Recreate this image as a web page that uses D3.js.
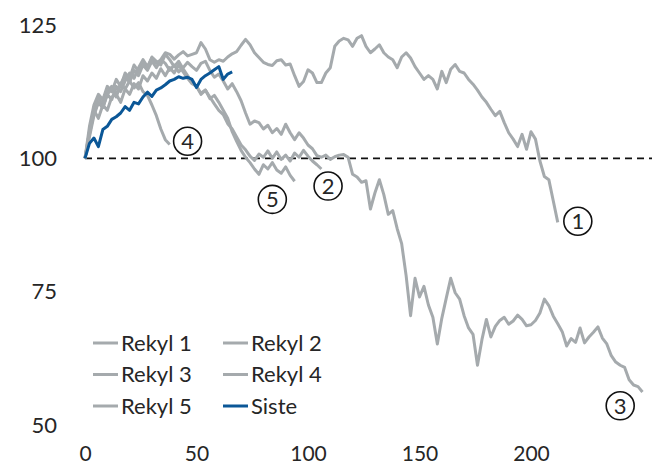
<!DOCTYPE html>
<html>
<head>
<meta charset="utf-8">
<script src="https://cdn.jsdelivr.net/npm/d3@7"></script>
<style>
  body { margin: 0; background: #fff; }
  svg text { font-family: Lato, "Open Sans", sans-serif; font-weight: 400; fill: #262626; }
</style>
</head>
<body>
<svg id="chart" width="652" height="468"></svg>
<script>
// values every 2 trading days, starting at day 0 (index 100 at start)
const step = 2

const rekyl1 = [100, 104, 108, 110.5, 109.5, 112, 111, 113.5, 112.5, 114.5, 116, 115, 117, 118.5, 117.2, 118.8,
    117.8, 118.5, 119.8, 119.5, 118.6, 119.4, 120, 119.2, 119.5, 119.8, 121.7, 120.5, 118.5, 118, 118.5, 118.2,
    119, 119.6, 120, 121.2, 122.3, 121.3, 119.8, 118.9, 118, 117.6, 117.4, 118.3, 118.5, 117.5, 117.7, 115.5,
    113.5, 114.4, 116.6, 116, 114.2, 114.2, 116, 117, 121, 122, 122.5, 122.2, 121, 122.5, 123, 121,
    119.8, 120.5, 121.3, 119.8, 119, 118.5, 117, 119, 119.8, 118.8, 117.2, 116, 114.8, 115.5, 114.8, 113,
    116.3, 114.2, 116.7, 117.6, 116.3, 116, 114.8, 113.9, 112.8, 111.5, 110.5, 109.2, 108, 108.8, 106.7, 104.8,
    103.6, 102.2, 104.5, 101.7, 105, 103.6, 99.5, 96.6, 96, 92, 88]

const rekyl2 = [100, 106, 110, 112, 111, 113.5, 112.5, 114.8, 113.5, 116, 115, 117.5, 116.3, 118, 117, 119,
    118.2, 117.5, 119.5, 118.5, 117.2, 118.2, 116.8, 115.5, 114.2, 113.5, 112.2, 112.8, 111.5, 110.2, 109, 108.2,
    106.5, 105.5, 104, 102.5, 101.6, 100.4, 99.6, 100.8, 100.2, 101.4, 100, 101.2, 99.8, 100.6, 99.5, 101,
    100.2, 101.5, 100.4, 99.5, 98.8, 98]

const rekyl3 = [100, 105, 109, 111.5, 110, 112.5, 113.5, 112, 114, 115.5, 114.2, 116.5, 115.5, 117.5, 116.5, 118.2,
    117, 118.5, 117.8, 116.5, 117.5, 116.2, 117, 118, 117.2, 116.5, 117.8, 118.2, 116.5, 115.2, 115.8, 114.5,
    113, 114, 112.5, 110.8, 108.5, 106.4, 107, 106.7, 105.5, 106.2, 104.8, 105.6, 104.5, 106.4, 104.8, 103.5,
    104.8, 103.8, 102.5, 101.8, 100.5, 100.2, 100.6, 99.8, 100.3, 100.6, 100.7, 100.2, 97, 96.5, 95.5, 95.8,
    90.5, 93.5, 96, 93.2, 89.5, 90.2, 86.8, 84, 78, 70.5, 77.5, 74, 76, 72.5, 70.2, 65.2,
    70, 73.8, 77.5, 74.8, 73.6, 70.5, 68.2, 67, 61.2, 66, 69.8, 66.5, 68.5, 69.6, 70.2, 68.9,
    69.5, 70.6, 69.8, 68.6, 68.8, 69.6, 71, 73.6, 72.4, 70.4, 69, 67.5, 64.8, 66.2, 65.5, 68.2,
    65.4, 66.5, 67.4, 68.4, 66.3, 65.2, 63, 61.8, 61.2, 60.8, 58.5, 57.5, 57.2, 56.2]

const rekyl4 = [100, 104.5, 108.5, 110.5, 109.5, 112, 113, 111.5, 114, 113, 114.5, 113.2, 114.2, 112.5, 111.8, 110,
    108, 105.5, 103.5, 102.6]

const rekyl5 = [100, 105, 109, 107.5, 110, 109, 111.5, 112, 110.5, 113, 112, 114, 113, 115.5, 114.5, 116,
    115, 116.8, 115.5, 117, 116, 117.5, 116.2, 115, 114, 113.5, 112, 112.8, 111.2, 111.8, 110.5, 109,
    107.5, 105, 103.2, 101.5, 100.2, 99.2, 98, 97, 98.8, 98, 99.2, 97.8, 97.2, 98.4, 96.8, 95.7]

const siste = [100, 102.8, 103.8, 102.2, 105.4, 106, 107.3, 107.8, 108.5, 109.7, 109, 110.5, 110.2, 111.5, 112.4, 111.6,
    112.8, 113.2, 113.8, 114.5, 114.8, 115.3, 115, 115.2, 114.8, 113.3, 114.8, 115.5, 116, 116.6, 117.2, 114.8,
    115.8, 116.2]

const seriesNames = ['Rekyl 1', 'Rekyl 2', 'Rekyl 3', 'Rekyl 4', 'Rekyl 5', 'Siste']
const seriesValues = [rekyl1, rekyl2, rekyl3, rekyl4, rekyl5, siste]

const yTicks = [50, 75, 100, 125]
const xTicks = [0, 50, 100, 150, 200]

// circled labels: number, day, value
const labelNums = ['1', '2', '3', '4', '5']
const labelDays = [221, 109, 240, 46, 84]
const labelVals = [88.2, 94.8, 53.6, 103.2, 92.3]

const grey = '#a5aaad'
const blue = '#0b5797'

let svg = d3.select('#chart')

let xScale = d3.scaleLinear()
    .domain([0, 250])
    .range([85, 642.5])

let yScale = d3.scaleLinear()
    .domain([50, 125])
    .range([425, 25])

// tick labels, no axis lines
let yAxis = svg.append('g')
    .attr('transform', 'translate(57,0)')
    .call(d3.axisLeft(yScale).tickValues(yTicks).tickSize(0).tickPadding(0))
yAxis.select('.domain').remove()
yAxis.selectAll('text').attr('font-size', 22).attr('font-family', null).attr('fill', null)

let xAxis = svg.append('g')
    .attr('transform', 'translate(0,446)')
    .call(d3.axisBottom(xScale).tickValues(xTicks).tickSize(0).tickPadding(0))
xAxis.select('.domain').remove()
xAxis.selectAll('text').attr('font-size', 21).attr('font-family', null).attr('fill', null)

// reference line at 100
svg.append('line')
    .attr('x1', xScale(0))
    .attr('x2', 652)
    .attr('y1', yScale(100))
    .attr('y2', yScale(100))
    .attr('stroke', '#111')
    .attr('stroke-width', 1.6)
    .attr('stroke-dasharray', '7,5')

let data = seriesNames.map((name, i) => {
    return {
        name: name,
        color: name == 'Siste' ? blue : grey,
        values: seriesValues[i].map((v, j) => ({ day: j * step, value: v }))
    }
})

let line = d3.line()
    .x(d => xScale(d.day))
    .y(d => yScale(d.value))

svg.append('g')
    .selectAll('path')
    .data(data)
    .enter()
    .append('path')
        .attr('d', d => line(d.values))
        .attr('fill', 'none')
        .attr('stroke', d => d.color)
        .attr('stroke-width', 3)
        .attr('stroke-linejoin', 'round')

// circled numbers
let labels = svg.append('g')
    .selectAll('g')
    .data(labelNums)
    .enter()
    .append('g')
        .attr('transform', (d, i) => `translate(${xScale(labelDays[i])},${yScale(labelVals[i])})`)

labels.append('circle')
    .attr('r', 14)
    .attr('fill', '#fff')
    .attr('stroke', '#111')
    .attr('stroke-width', 1.6)

labels.append('text')
    .attr('text-anchor', 'middle')
    .attr('dy', '0.36em')
    .attr('font-size', 22)
    .text(d => d)

// legend, two columns
let legend = svg.append('g')
    .selectAll('g')
    .data(data)
    .enter()
    .append('g')
        .attr('transform', (d, i) => `translate(${i % 2 == 0 ? 93 : 223},${343 + Math.floor(i / 2) * 31.5})`)

legend.append('line')
    .attr('x1', 0)
    .attr('x2', 25)
    .attr('stroke', d => d.color)
    .attr('stroke-width', 3)

legend.append('text')
    .attr('x', 28)
    .attr('dy', '0.35em')
    .attr('font-size', 22)
    .text(d => d.name)
</script>
</body>
</html>
